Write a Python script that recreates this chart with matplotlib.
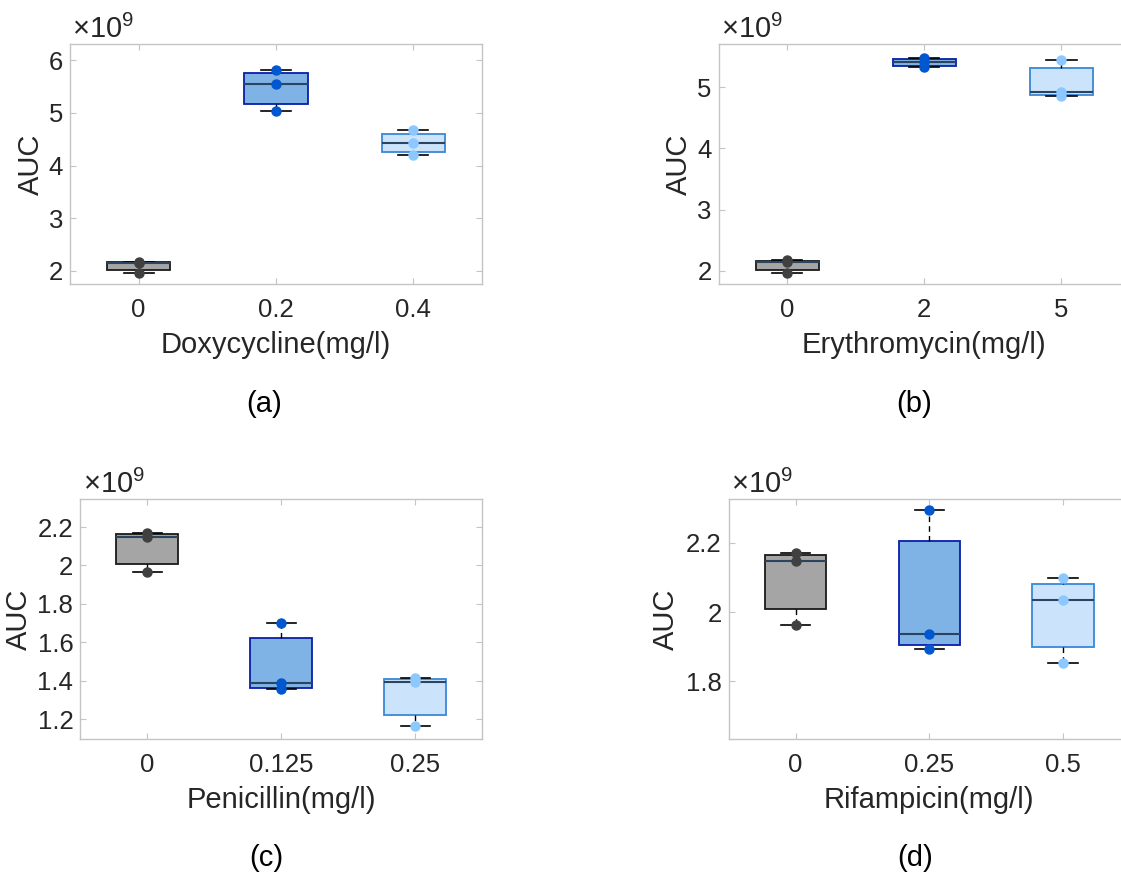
import numpy as np
import matplotlib.pyplot as plt
from matplotlib.ticker import FuncFormatter, MultipleLocator

plt.rcParams['font.family'] = ['Liberation Sans', 'DejaVu Sans']
plt.rcParams['mathtext.fontset'] = 'custom'
plt.rcParams['mathtext.rm'] = 'Liberation Sans'

# ----------------------------
# AUC replicates (3 per concentration)
# ----------------------------
control = [1.964e9, 2.146e9, 2.171e9]

doxy_ticks = ['0', '0.2', '0.4']
doxy_low = [5.04e9, 5.55e9, 5.82e9]
doxy_high = [4.21e9, 4.43e9, 4.67e9]

ery_ticks = ['0', '2', '5']
ery_low = [5.33e9, 5.41e9, 5.47e9]
ery_high = [4.86e9, 4.92e9, 5.44e9]

pen_ticks = ['0', '0.125', '0.25']
pen_low = [1.356e9, 1.391e9, 1.702e9]
pen_high = [1.165e9, 1.392e9, 1.414e9]

rif_ticks = ['0', '0.25', '0.5']
rif_low = [1.893e9, 1.937e9, 2.294e9]
rif_high = [1.853e9, 2.035e9, 2.097e9]

# ----------------------------
# Styling
# ----------------------------
fills = ['#a5a5a5', '#7fb2e5', '#cce4fb']
edges = ['#1a1a1a', '#0a1fa8', '#3a87d6']
dots = ['#404040', '#0057d0', '#8cc8ff']
median_color = '#2b4560'
axis_gray = '#c4c4c4'
text_color = '#262626'

W, H = 1121, 873
fig = plt.figure(figsize=(W / 100, H / 100), dpi=100)


def px_axes(left, top, right, bottom):
    return fig.add_axes([left / W, 1 - bottom / H, (right - left) / W, (bottom - top) / H])


def draw_panel(ax, groups, ticks, xlabel, ylim, ystep, ylabel_x):
    stats = []
    for vals in groups:
        q1, med, q3 = np.percentile(vals, [25, 50, 75], method='hazen')
        stats.append(dict(med=med, q1=q1, q3=q3, whislo=min(vals), whishi=max(vals), fliers=[]))
    pos = np.arange(1, len(groups) + 1)
    bp = ax.bxp(stats, positions=pos, widths=0.46, capwidths=0.22, patch_artist=True,
                showfliers=False,
                whiskerprops=dict(color='black', linestyle=(0, (4, 3)), linewidth=1.0),
                capprops=dict(color='black', linewidth=1.2),
                medianprops=dict(color=median_color, linewidth=1.5))
    for i, box in enumerate(bp['boxes']):
        box.set_facecolor(fills[i])
        box.set_edgecolor(edges[i])
        box.set_linewidth(1.3)
    for i, vals in enumerate(groups):
        ax.plot(np.full(len(vals), pos[i]), vals, 'o', ms=6.5, color=dots[i], zorder=5)

    ax.set_xlim(0.5, len(groups) + 0.5)
    ax.set_ylim(*ylim)
    ax.set_xticks(pos)
    ax.set_xticklabels(ticks)
    ax.yaxis.set_major_locator(MultipleLocator(ystep))
    ax.yaxis.set_major_formatter(FuncFormatter(lambda v, p: f'{v / 1e9:g}'))
    ax.tick_params(direction='in', top=True, right=True, length=4, width=0.8,
                   color=axis_gray, labelsize=18.5, labelcolor=text_color)
    ax.tick_params(axis='x', pad=10)
    ax.tick_params(axis='y', pad=5)
    for sp in ax.spines.values():
        sp.set_color(axis_gray)
        sp.set_linewidth(1.0)

    ax.set_xlabel(xlabel, fontsize=21, color=text_color, va='center')
    ax.xaxis.set_label_coords(0.5, -0.256)
    ax.set_ylabel('AUC', fontsize=21, color=text_color, va='center')
    ax.yaxis.set_label_coords(ylabel_x, 0.5)
    ax.text(0.006, 1.024, r'$\times10^{9}$', transform=ax.transAxes, fontsize=21,
            color=text_color, ha='left', va='baseline')


ax_a = px_axes(70, 44, 482, 284)
ax_b = px_axes(718.7, 44, 1130, 284)
ax_c = px_axes(80.3, 499, 482.3, 739)
ax_d = px_axes(728.7, 499, 1130, 739)

draw_panel(ax_a, [control, doxy_low, doxy_high], doxy_ticks, 'Doxycycline(mg/l)',
           (1.753e9, 6.31e9), 1e9, -0.094)
draw_panel(ax_b, [control, ery_low, ery_high], ery_ticks, 'Erythromycin(mg/l)',
           (1.787e9, 5.703e9), 1e9, -0.097)
draw_panel(ax_c, [control, pen_low, pen_high], pen_ticks, 'Penicillin(mg/l)',
           (1.097e9, 2.346e9), 0.2e9, -0.152)
draw_panel(ax_d, [control, rif_low, rif_high], rif_ticks, 'Rifampicin(mg/l)',
           (1.6344e9, 2.3254e9), 0.2e9, -0.156)

# panel captions
for label, x, y in [('(a)', 264, 404), ('(b)', 914.5, 404), ('(c)', 266, 858), ('(d)', 914.7, 858)]:
    fig.text(x / W, 1 - y / H, label, fontsize=21, color='black', ha='center', va='center')

fig.savefig('out.png', dpi=100)
